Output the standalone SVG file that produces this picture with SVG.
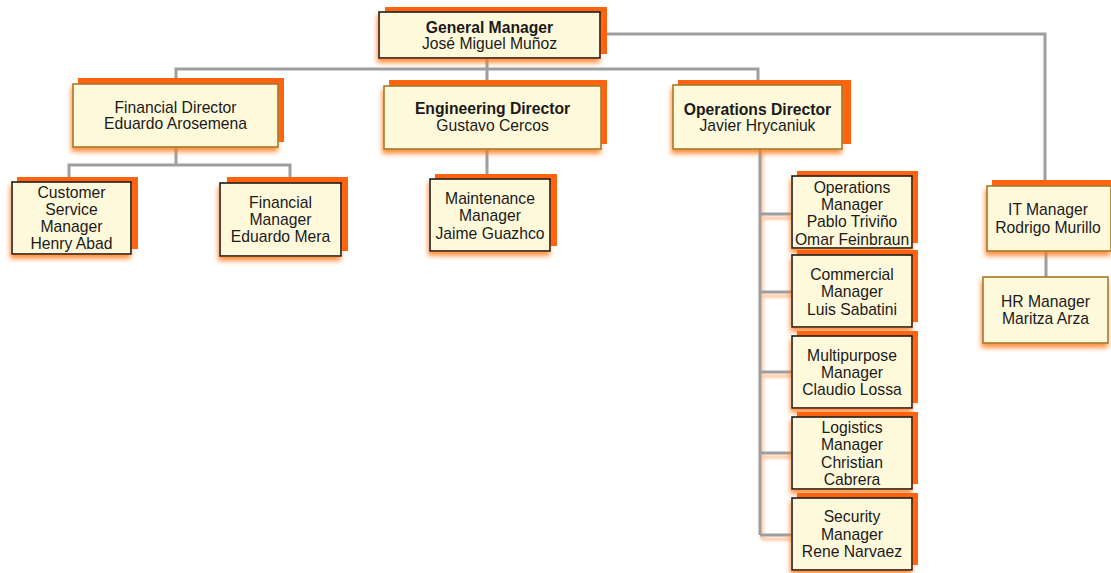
<svg xmlns="http://www.w3.org/2000/svg" width="1111" height="573" viewBox="0 0 1111 573">
<defs>
<filter id="glow" x="-20%" y="-20%" width="140%" height="150%">
<feGaussianBlur in="SourceAlpha" stdDeviation="2.4" result="b"/>
<feOffset in="b" dx="-1" dy="4" result="o"/>
<feFlood flood-color="#FF7A1A" flood-opacity="0.85"/>
<feComposite in2="o" operator="in" result="s"/>
<feMerge><feMergeNode in="s"/><feMergeNode in="SourceGraphic"/></feMerge>
</filter>
<filter id="lglow" x="-50%" y="-10%" width="200%" height="120%">
<feGaussianBlur in="SourceAlpha" stdDeviation="1.5" result="b"/>
<feOffset in="b" dx="2" dy="4" result="o"/>
<feFlood flood-color="#FF8A3A" flood-opacity="0.55"/>
<feComposite in2="o" operator="in" result="s"/>
<feMerge><feMergeNode in="s"/><feMergeNode in="SourceGraphic"/></feMerge>
</filter>
</defs>
<style>
.bk{fill:#FF6310;}
.bx{fill:#FFF9DB;stroke:#1A1A1A;stroke-width:1.6;filter:url(#glow);}
.bd{fill:#FFF9DB;stroke:#A37B2C;stroke-width:1.6;filter:url(#glow);}
text{font-family:"Liberation Sans",Arial,sans-serif;font-size:15.7px;fill:#1A1A1A;text-anchor:middle;}
.b{font-weight:bold;}
.ln{fill:none;stroke:#9E9E9E;stroke-width:3;}
</style>
<rect width="1111" height="573" fill="#FFFFFF"/>
<g id="connectors">
<path class="ln" d="M487 58V69M176 84V69H758V85M487 69V86M600 34H1045V186"/>
<path class="ln" d="M176 147V165M69 182V165H290V183M487 149V179M1046 251V277"/>
<g filter="url(#lglow)">
<path class="ln" d="M760 149V535M760 214H792M760 292H792M760 372H792M760 453H792M760 535H792"/>
</g>
</g>
<g id="gm">
<rect class="bk" x="385" y="7" width="222" height="47"/>
<rect class="bx" x="379" y="12" width="221" height="46"/>
<text class="b" x="489.5" y="32.5">General Manager</text>
<text x="489.5" y="49">José Miguel Muñoz</text>
</g>
<g id="fd">
<rect class="bk" x="78" y="78" width="206" height="64"/>
<rect class="bd" x="73" y="84" width="205" height="63"/>
<text x="175.5" y="112.5">Financial Director</text>
<text x="175.5" y="129">Eduardo Arosemena</text>
</g>
<g id="ed">
<rect class="bk" x="389" y="80" width="218" height="64"/>
<rect class="bd" x="384" y="86" width="217" height="63"/>
<text class="b" x="492.5" y="114">Engineering Director</text>
<text x="492.5" y="131">Gustavo Cercos</text>
</g>
<g id="od">
<rect class="bk" x="678" y="80" width="173" height="64"/>
<rect class="bd" x="673" y="85" width="169" height="64"/>
<text class="b" x="757.5" y="114.5">Operations Director</text>
<text x="757.5" y="131">Javier Hrycaniuk</text>
</g>
<g id="cs">
<rect class="bk" x="17" y="177" width="121" height="72"/>
<rect class="bx" x="12" y="182" width="119" height="72"/>
<text x="71.5" y="197.5">Customer</text>
<text x="71.5" y="214.5">Service</text>
<text x="71.5" y="232">Manager</text>
<text x="71.5" y="248.5">Henry Abad</text>
</g>
<g id="fm">
<rect class="bk" x="227" y="177" width="121" height="74"/>
<rect class="bx" x="220" y="183" width="121" height="73"/>
<text x="280.5" y="207.5">Financial</text>
<text x="280.5" y="224.5">Manager</text>
<text x="280.5" y="241.5">Eduardo Mera</text>
</g>
<g id="mm">
<rect class="bk" x="435" y="174" width="122" height="72"/>
<rect class="bx" x="430" y="179" width="120" height="72"/>
<text x="490" y="203.5">Maintenance</text>
<text x="490" y="220.5">Manager</text>
<text x="490" y="238.5">Jaime Guazhco</text>
</g>
<g id="om">
<rect class="bk" x="797" y="171" width="121" height="72"/>
<rect class="bx" x="792" y="176" width="120" height="72"/>
<text x="852" y="192.5">Operations</text>
<text x="852" y="209.5">Manager</text>
<text x="852" y="226.5">Pablo Triviño</text>
<text x="852" y="244.5">Omar Feinbraun</text>
</g>
<g id="cm">
<rect class="bk" x="797" y="250" width="121" height="72"/>
<rect class="bx" x="792" y="255" width="120" height="72"/>
<text x="852" y="279.5">Commercial</text>
<text x="852" y="297">Manager</text>
<text x="852" y="314.5">Luis Sabatini</text>
</g>
<g id="mp">
<rect class="bk" x="797" y="331" width="121" height="72"/>
<rect class="bx" x="792" y="336" width="120" height="72"/>
<text x="852" y="360.5">Multipurpose</text>
<text x="852" y="378">Manager</text>
<text x="852" y="394.5">Claudio Lossa</text>
</g>
<g id="lm">
<rect class="bk" x="797" y="412" width="121" height="72"/>
<rect class="bx" x="792" y="417" width="120" height="72"/>
<text x="852" y="432.5">Logistics</text>
<text x="852" y="449.5">Manager</text>
<text x="852" y="467.5">Christian</text>
<text x="852" y="484.5">Cabrera</text>
</g>
<g id="sm">
<rect class="bk" x="797" y="493" width="121" height="72"/>
<rect class="bx" x="792" y="498" width="120" height="72"/>
<text x="852" y="521.5">Security</text>
<text x="852" y="539.5">Manager</text>
<text x="852" y="556.5">Rene Narvaez</text>
</g>
<g id="it">
<rect class="bk" x="992" y="180" width="125" height="66"/>
<rect class="bd" x="987" y="186" width="124" height="65"/>
<text x="1048" y="214.5">IT Manager</text>
<text x="1048" y="232.5">Rodrigo Murillo</text>
</g>
<g id="hr">
<rect class="bd" x="983" y="277" width="125" height="66"/>
<text x="1045.5" y="306.5">HR Manager</text>
<text x="1045.5" y="323.5">Maritza Arza</text>
</g>
</svg>
